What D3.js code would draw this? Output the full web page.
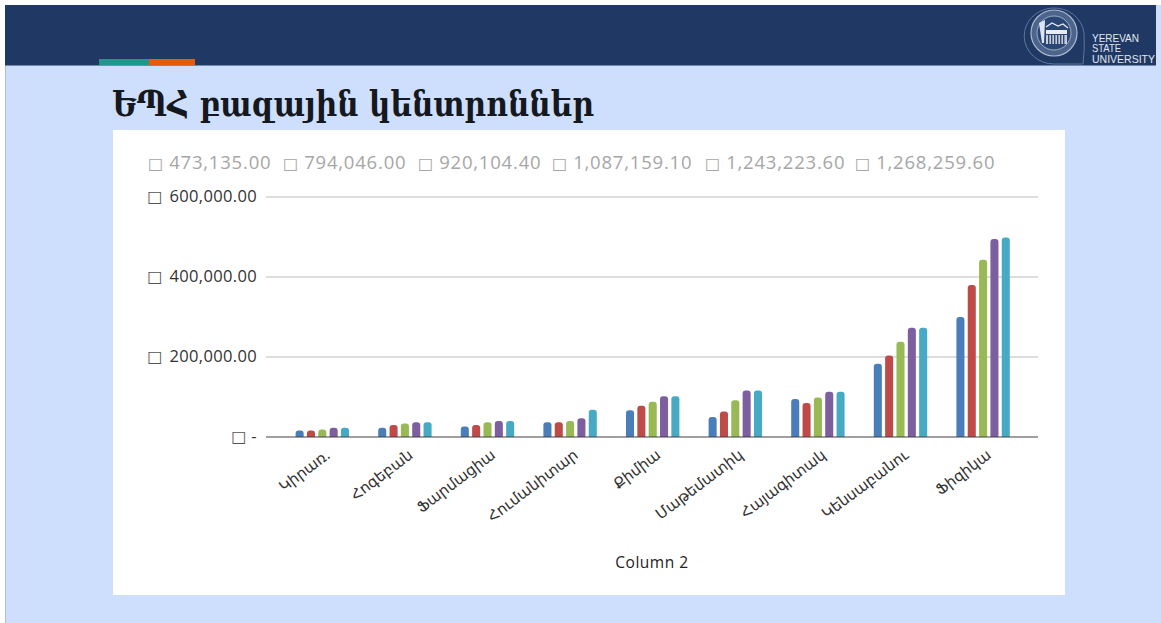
<!DOCTYPE html>
<html lang="hy">
<head>
<meta charset="utf-8">
<script src="https://cdn.jsdelivr.net/npm/d3@7/dist/d3.min.js"></script>
<style>
html,body{margin:0;padding:0;background:#fff;overflow:hidden}
svg{display:block}
text{font-family:"Open Sans","DejaVu Sans",sans-serif}
</style>
</head>
<body>
<svg id="c" width="1161" height="623"></svg>
<script>
const titleText = "ԵՊՀ բազային կենտրոններ";
const xAxisTitle = "Column 2";
const categories = ["Կիրառ.","Հոգեբան","Ֆարմացիա","Հումանիտար","Քիմիա","Մաթեմատիկ","Հայագիտակ","Կենսաբանու","Ֆիզիկա"];
const seriesNames = ["473,135.00","794,046.00","920,104.40","1,087,159.10","1,243,223.60","1,268,259.60"];
const series1 = [16000,23000,26000,37000,67000,50000,95000,183000,300000];
const series2 = [16000,30000,30000,37000,78000,64000,85000,204000,380000];
const series3 = [19000,34000,37000,40000,88000,92000,99000,238000,443000];
const series4 = [23000,37000,40000,47000,102000,116000,113000,273000,495000];
const series5 = [23000,37000,40000,68000,102000,116000,113000,273000,499000];
const seriesColors = ["#4a7ebb","#be4b48","#98b954","#7d5fa0","#46aac5"];
const yTicks = [0,200000,400000,600000];

const svg = d3.select("#c");
// slide background
svg.append("rect").attr("x",5).attr("y",5).attr("width",1156).attr("height",618).attr("fill","#cddffd");
svg.append("rect").attr("x",5).attr("y",5).attr("width",1).attr("height",618).attr("fill","#b4c0d2");
svg.append("rect").attr("x",5).attr("y",5).attr("width",1151).attr("height",60.5).attr("fill","#1f3864");
svg.append("rect").attr("x",99).attr("y",59).attr("width",50).attr("height",6).attr("fill","#1b9a8c");
svg.append("rect").attr("x",149).attr("y",59).attr("width",46).attr("height",6).attr("fill","#e8590c");
svg.append("text").attr("x",112).attr("y",116).text(titleText)
  .attr("fill","#15181c").attr("font-size",36).attr("font-weight",700)
  .style("font-family","'DejaVu Serif',serif").attr("textLength",482).attr("lengthAdjust","spacingAndGlyphs");

// logo
const logo = svg.append("g");
const cx = 1054, cy = 33;
logo.append("path").attr("d",`M${cx+29},64 Q${cx+31},48 ${cx+30},${cy} A30,28 0 1 0 ${cx},64 H${cx+29}`).attr("fill","none").attr("stroke","#5f769c").attr("stroke-width",1);
logo.append("circle").attr("cx",cx).attr("cy",cy).attr("r",23).attr("fill","#4d648c").attr("stroke","#aeb9cd").attr("stroke-width",1.2);
logo.append("circle").attr("cx",cx).attr("cy",cy).attr("r",17).attr("fill","#2a4675").attr("stroke","#b6c1d3").attr("stroke-width",0.8);
logo.append("path").attr("d",`M${cx-8},${cy-6} L${cx-2},${cy-10} L${cx+4},${cy-7} L${cx+9},${cy-9} L${cx+14},${cy-5}`).attr("fill","none").attr("stroke","#e6ebf2").attr("stroke-width",1.3);
logo.append("path").attr("d",`M${cx-15},${cy-10} L${cx-9},${cy-13} L${cx-10},${cy+10} L${cx-12},${cy+10} Z`).attr("fill","#dfe5ee");
logo.append("rect").attr("x",cx-8).attr("y",cy-3).attr("width",21).attr("height",4).attr("fill","#e8edf3");
logo.append("rect").attr("x",cx-8).attr("y",cy+2).attr("width",21).attr("height",9).attr("fill","#c3cddc");
[-6,-3,0,3,6,9].forEach(d=>logo.append("rect").attr("x",cx+d).attr("y",cy+2).attr("width",1.4).attr("height",9).attr("fill","#33496f"));
["YEREVAN","STATE","UNIVERSITY"].forEach((t,i)=>logo.append("text").attr("x",1092).attr("y",41.5+i*10.8).text(t)
  .attr("fill","#e2e7f0").attr("font-size",11).attr("textLength",[47,29,63][i]).attr("lengthAdjust","spacingAndGlyphs")
  .style("font-family","'Liberation Sans',sans-serif"));

// card
svg.append("rect").attr("x",113).attr("y",130).attr("width",952).attr("height",465).attr("fill","#fff");

// scales
const y = d3.scaleLinear().domain([0,600000]).range([437,197]);
const x0 = d3.scaleBand().domain(categories).range([281,1024.4]);
const x1 = d3.scaleBand().domain(d3.range(5)).range([-26.7,26.7]).paddingInner(0.29);
const axisL = 266, axisR = 1038;

// legend
const legendPos = [148,283,418,552,705,855];
seriesNames.forEach((s,i)=>{
  const g = svg.append("text").attr("x",legendPos[i]).attr("y",169).attr("fill","#a6a6a6");
  g.append("tspan").text("□").attr("font-size",16).style("font-family","'DejaVu Sans'");
  g.append("tspan").text(s).attr("dx",6).attr("font-size",18.5).style("letter-spacing","0.8px");
});

// grid
svg.append("g").selectAll("line").data(yTicks.filter(d=>d>0)).join("line")
  .attr("x1",axisL).attr("x2",axisR).attr("y1",d=>y(d)).attr("y2",d=>y(d))
  .attr("stroke","#d2d2d2").attr("stroke-width",1.3);

// y axis
const fmt = d => d===0 ? "-" : d3.format(",.2f")(d);
const gy = svg.append("g").attr("transform",`translate(${axisL-9},1.5)`)
  .call(d3.axisLeft(y).tickValues(yTicks).tickFormat(fmt).tickSize(0).tickPadding(0));
gy.select(".domain").remove();
gy.selectAll("text").each(function(){
  const t = d3.select(this), s = t.text();
  t.text(null).attr("fill","#333");
  t.append("tspan").text("□").attr("font-size",16).attr("fill","#555").style("font-family","'DejaVu Sans'");
  t.append("tspan").text(s).attr("dx",s==="-"?5:7).attr("font-size",16.5).style("letter-spacing","0.35px");
});

// bars
const allSeries = [series1,series2,series3,series4,series5];
const barPath = (x,w,yt,yb,r) => {
  const rr = Math.min(r,(yb-yt));
  return `M${x},${yb}V${yt+rr}Q${x},${yt} ${x+rr},${yt}H${x+w-rr}Q${x+w},${yt} ${x+w},${yt+rr}V${yb}Z`;
};
allSeries.forEach((vals,si)=>{
  svg.append("g").selectAll("path").data(vals).join("path")
    .attr("fill",seriesColors[si])
    .attr("d",(d,i)=>barPath(x0(categories[i])+x0.bandwidth()/2+x1(si),x1.bandwidth(),y(d),y(0),3));
});

// x axis
const gx = svg.append("g").attr("transform",`translate(0,${y(0)})`)
  .call(d3.axisBottom(x0).tickSize(0).tickPadding(0));
gx.select(".domain").remove();
gx.selectAll("text").attr("text-anchor","end").attr("dy",0)
  .attr("font-size",15).attr("fill","#333")
  .style("font-family","'DejaVu Sans',sans-serif")
  .attr("transform","translate(9,20) rotate(-37)");
svg.append("line").attr("x1",axisL).attr("x2",axisR).attr("y1",y(0)).attr("y2",y(0)).attr("stroke","#404040").attr("stroke-width",1.2);

svg.append("text").attr("x",652).attr("y",568).attr("text-anchor","middle").attr("font-size",15.5).style("letter-spacing","0.5px").attr("fill","#222").text(xAxisTitle);
</script>
</body>
</html>
